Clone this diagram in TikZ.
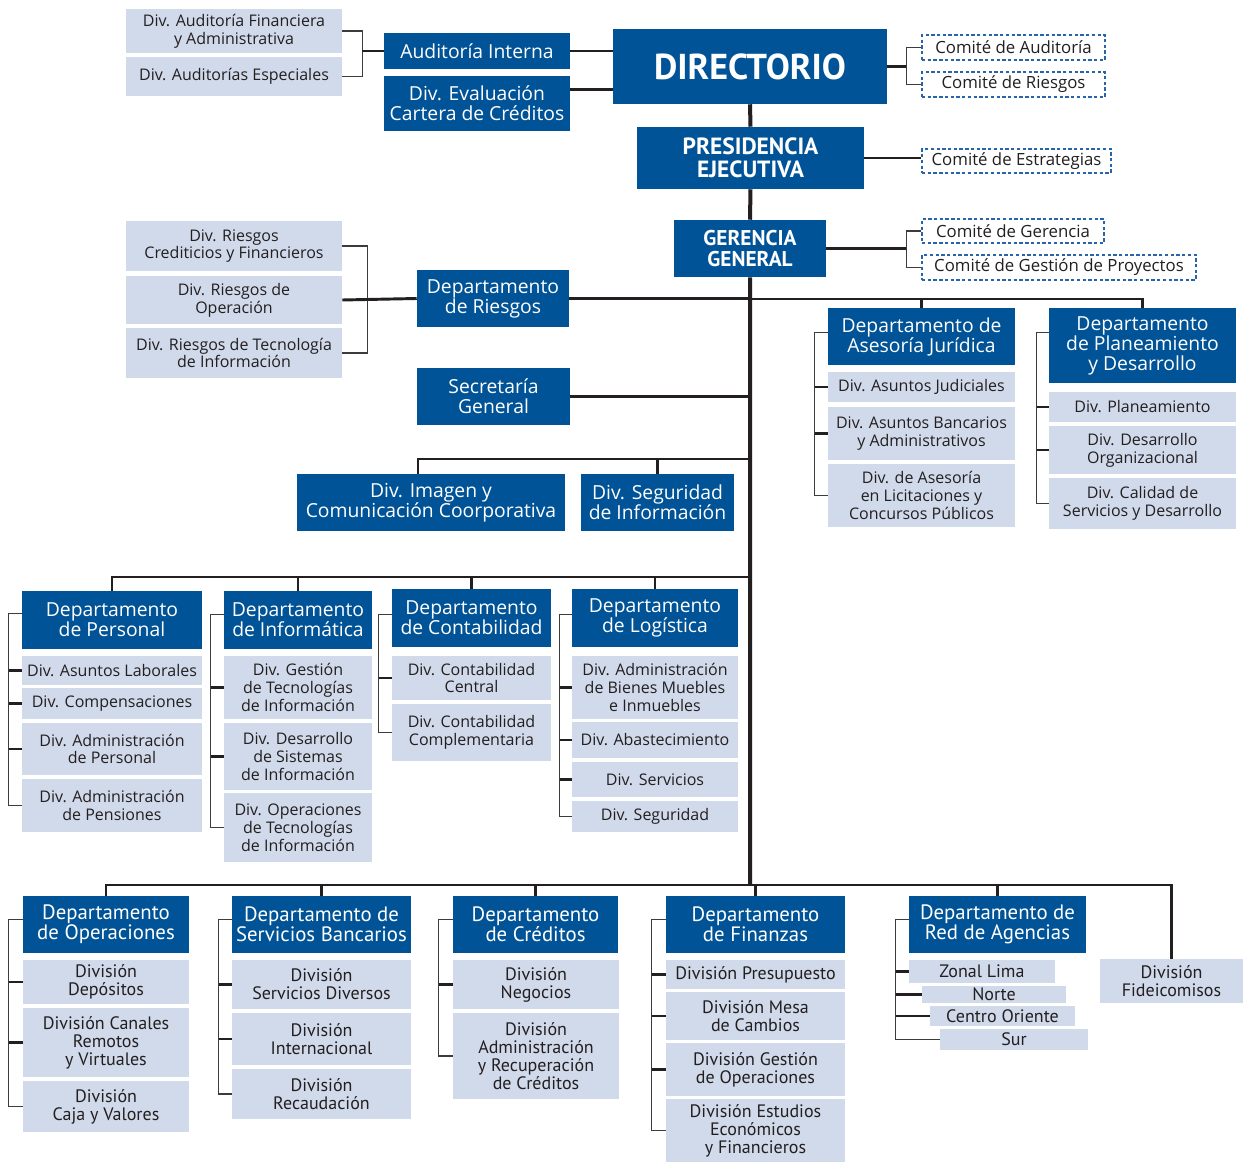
\documentclass[tikz,border=0pt]{standalone}
\usepackage{fontspec}
\setmainfont{Open Sans}
\newfontfamily\ptsans{PT Sans}
\usetikzlibrary{calc}
\definecolor{dkblue}{RGB}{0,83,150}
\definecolor{ltblue}{RGB}{209,218,234}
\definecolor{dashblue}{RGB}{40,100,170}
\definecolor{txt}{RGB}{35,31,32}
\definecolor{lncol}{RGB}{35,31,32}
\definecolor{brcol}{RGB}{60,60,60}
\newcommand\hdf{\fontsize{14.5}{15}\selectfont}
\newcommand\ltf{\fontsize{12}{13.3}\selectfont}
\newcommand\cmf{\fontsize{12.6}{13.3}\selectfont}
\newcommand\bhdf{\ptsans\fontsize{15.6}{15}\selectfont}
\newcommand\bltf{\ptsans\fontsize{13.5}{13.5}\selectfont}
\newcommand\obox[7]{\node[#6, minimum width={(#4-#2)*0.75pt}, minimum height={(#5-#3)*0.75pt}] (#1) at ({(#2+#4)/2},{(#3+#5)/2}) {#7};}
\tikzset{
 dk/.style={fill=dkblue, text=white, inner sep=0pt, align=center, font=\hdf},
 lt/.style={fill=ltblue, text=txt, inner sep=0pt, align=center, font=\ltf},
 comite/.style={draw=dashblue, dash pattern=on 2.5pt off 1.8pt, line width=0.8pt, text=txt, inner sep=0pt, align=center, font=\cmf},
 bdk/.style={dk, font=\bhdf},
 blt/.style={lt, font=\bltf},
 ttl/.style={dk, font=\ptsans\bfseries\fontsize{#1}{#1}\selectfont},
 trunk/.style={line width=3pt, draw=lncol},
 hl/.style={line width=2.2pt, draw=lncol},
 dr/.style={line width=1.6pt, draw=lncol},
 br/.style={line width=1pt, draw=brcol},
 tk/.style={line width=1.8pt, draw=lncol}
}
\begin{document}
\begin{tikzpicture}[x=0.75pt,y=-0.75pt]
\useasboundingbox (0,0) rectangle (1243,1162);
\fill[white] (0,0) rectangle (1243,1162);
% ---- top
\obox{A1}{126}{9}{342}{53}{lt}{Div. Auditoría Financiera\\y Administrativa}
\obox{A2}{126}{57}{342}{96}{lt}{Div. Auditorías Especiales}
\obox{AI}{384}{33}{570}{69}{dk}{Auditoría Interna}
\obox{EV}{384}{76}{570}{131}{dk}{Div. Evaluación\\Cartera de Créditos}
\obox{DIR}{613}{29}{887}{104}{ttl=27}{DIRECTORIO}
\obox{CA}{922}{35}{1105}{60}{comite}{Comité de Auditoría}
\obox{CR}{922}{72}{1105}{97}{comite}{Comité de Riesgos}
\obox{PE}{637}{127}{864}{189}{ttl=17.6}{PRESIDENCIA\\EJECUTIVA}
\obox{CE}{922}{149}{1111}{173}{comite}{Comité de Estrategias}
\obox{GG}{674}{220}{826}{277}{ttl=16}{GERENCIA\\GENERAL}
\obox{CG}{922}{219}{1104}{243}{comite}{Comité de Gerencia}
\obox{CP}{922}{255}{1196}{280}{comite}{Comité de Gestión de Proyectos}
% ---- riesgos
\obox{R1}{126}{221}{342}{271}{lt}{Div. Riesgos\\Crediticios y Financieros}
\obox{R2}{126}{276}{342}{324}{lt}{Div. Riesgos de\\Operación}
\obox{R3}{126}{328}{342}{378}{lt}{Div. Riesgos de Tecnología\\de Información}
\obox{DR}{417}{270}{569}{327}{dk}{Departamento\\de Riesgos}
\obox{SG}{417}{368}{570}{425}{dk}{Secretaría\\General}
\obox{IM}{297}{474}{565}{531}{dk}{Div. Imagen y\\Comunicación Coorporativa}
\obox{SI}{581}{474}{734}{531}{dk}{Div. Seguridad\\de Información}
% ---- asesoria / planeamiento
\obox{AJ}{828}{308}{1015}{365}{dk}{Departamento de\\Asesoría Jurídica}
\obox{J1}{828}{372}{1015}{402}{lt}{Div. Asuntos Judiciales}
\obox{J2}{828}{407}{1015}{460}{lt}{Div. Asuntos Bancarios\\y Administrativos}
\obox{J3}{828}{464}{1015}{527}{lt}{Div. de Asesoría\\en Licitaciones y\\Concursos Públicos}
\obox{PD}{1049}{308}{1236}{383}{dk}{Departamento\\de Planeamiento\\y Desarrollo}
\obox{P1}{1049}{392}{1236}{422}{lt}{Div. Planeamiento}
\obox{P2}{1049}{426}{1236}{474}{lt}{Div. Desarrollo\\Organizacional}
\obox{P3}{1049}{478}{1236}{529}{lt}{Div. Calidad de\\Servicios y Desarrollo}
% ---- row 2
\obox{DP}{22}{591}{202}{649}{dk}{Departamento\\de Personal}
\obox{dp1}{22}{656}{202}{685}{lt}{Div. Asuntos Laborales}
\obox{dp2}{22}{688}{202}{719}{lt}{Div. Compensaciones}
\obox{dp3}{22}{723}{202}{775}{lt}{Div. Administración\\de Personal}
\obox{dp4}{22}{779}{202}{832}{lt}{Div. Administración\\de Pensiones}
\obox{DI}{224}{591}{372}{649}{dk}{Departamento\\de Informática}
\obox{di1}{224}{656}{372}{719}{lt}{Div. Gestión\\de Tecnologías\\de Información}
\obox{di2}{224}{723}{372}{790}{lt}{Div. Desarrollo\\de Sistemas\\de Información}
\obox{di3}{224}{793}{372}{862}{lt}{Div. Operaciones\\de Tecnologías\\de Información}
\obox{DC}{392}{589}{551}{647}{dk}{Departamento\\de Contabilidad}
\obox{dc1}{392}{656}{551}{700}{lt}{Div. Contabilidad\\Central}
\obox{dc2}{392}{704}{551}{761}{lt}{Div. Contabilidad\\Complementaria}
\obox{DL}{572}{589}{738}{647}{dk}{Departamento\\de Logística}
\obox{dl1}{572}{656}{738}{719}{lt}{Div. Administración\\de Bienes Muebles\\e Inmuebles}
\obox{dl2}{572}{722}{738}{758}{lt}{Div. Abastecimiento}
\obox{dl3}{572}{762}{738}{797}{lt}{Div. Servicios}
\obox{dl4}{572}{801}{738}{832}{lt}{Div. Seguridad}
% ---- row 3
\obox{DO}{23}{896}{189}{953}{bdk}{Departamento\\de Operaciones}
\obox{do1}{23}{960}{189}{1004}{blt}{División\\Depósitos}
\obox{do2}{23}{1008}{189}{1077}{blt}{División Canales\\Remotos\\y Virtuales}
\obox{do3}{23}{1081}{189}{1132}{blt}{División\\Caja y Valores}
\obox{DS}{232}{896}{411}{953}{bdk}{Departamento de\\Servicios Bancarios}
\obox{ds1}{232}{960}{411}{1009}{blt}{División\\Servicios Diversos}
\obox{ds2}{232}{1013}{411}{1065}{blt}{División\\Internacional}
\obox{ds3}{232}{1069}{411}{1119}{blt}{División\\Recaudación}
\obox{DCr}{453}{896}{618}{953}{bdk}{Departamento\\de Créditos}
\obox{dcr1}{453}{960}{619}{1009}{blt}{División\\Negocios}
\obox{dcr2}{453}{1013}{619}{1099}{blt}{División\\Administración\\y Recuperación\\de Créditos}
\obox{DF}{666}{896}{845}{953}{bdk}{Departamento\\de Finanzas}
\obox{df1}{666}{960}{845}{989}{blt}{División Presupuesto}
\obox{df2}{666}{992}{845}{1040}{blt}{División Mesa\\de Cambios}
\obox{df3}{666}{1043}{845}{1096}{blt}{División Gestión\\de Operaciones}
\obox{df4}{666}{1099}{845}{1162}{blt}{División Estudios\\Económicos\\y Financieros}
\obox{DRA}{909}{896}{1086}{953}{bdk}{Departamento de\\Red de Agencias}
\obox{ra1}{909}{960}{1055}{983}{blt}{Zonal Lima}
\obox{ra2}{922}{986}{1066}{1003}{blt}{Norte}
\obox{ra3}{930}{1006}{1075}{1026}{blt}{Centro Oriente}
\obox{ra4}{940}{1029}{1088}{1050}{blt}{Sur}
\obox{FI}{1100}{959}{1243}{1003}{blt}{División\\Fideicomisos}
% ---- coordinates on trunk
\coordinate (hr) at (750,299);
\coordinate (hs) at (750,459);
\coordinate (h2) at (750,577);
\coordinate (h3) at (750,885);
% ---- top connectors
\draw[br] (A1.east) -- ++(20,0) |- (A2.east);
\draw[hl] (AI.west) -- ++(-22,0);
\draw[hl] (AI.east) -- (AI.east -| DIR.west);
\draw[hl] ($(EV.north east)+(0,14)$) -- ($(EV.north east -| DIR.west)+(0,14)$);
\draw[hl] (DIR.east) -- ++(20,0);
\draw[br] (CA.west) -- ++(-15,0) |- (CR.west);
\draw[hl] (PE.east) -- (CE.west |- PE.east);
\draw[hl] (GG.east) -- ++(81,0);
\draw[br] (CG.west) -- ++(-15,0) |- (CP.west);
\draw[trunk] (DIR.south) -- (PE.north) (PE.south) -- (GG.north) (GG.south) -- (h3);
% ---- riesgos / secretaria
\draw[br] (R1.east) -- ++(25,0) |- (R3.east);
\draw[hl] (R2.east) -- (DR.west);
\draw[hl] (DR.east) -- (DR.east -| hr);
\draw[hl] (hr) -| (PD.north);
\draw[dr] (AJ.north) -- (AJ.north |- hr);
\draw[hl] (SG.east) -- (SG.east -| hs);
\draw[dr] (hs) -| ($(IM.north west)+(121,0)$);
\draw[dr] (SI.north) -- (SI.north |- hs);
% ---- asesoria / planeamiento brackets
\draw[br] ($(AJ.north west)+(0,25)$) -- ++(-13,0) coordinate (AJb) |- (J3.west);
\foreach \c in {J1,J2} \draw[tk] (\c.west) -- (\c.west -| AJb);
\draw[br] ($(PD.north west)+(0,25)$) -- ++(-12,0) coordinate (PDb) |- (P3.west);
\foreach \c in {P1,P2} \draw[tk] (\c.west) -- (\c.west -| PDb);
% ---- row 2
\draw[hl] (h2) -| (DP.north);
\foreach \c in {DI,DC,DL} \draw[dr] (\c.north) -- (\c.north |- h2);
\draw[br] ($(DP.north west)+(0,23)$) -- ++(-13,0) coordinate (DPb) |- (dp4.west);
\foreach \c in {dp1,dp2,dp3} \draw[tk] (\c.west) -- (\c.west -| DPb);
\draw[br] ($(DI.north west)+(0,24)$) -- ++(-13,0) coordinate (DIb) |- (di3.west);
\foreach \c in {di1,di2} \draw[tk] (\c.west) -- (\c.west -| DIb);
\draw[br] ($(DC.north west)+(0,26)$) -- ++(-13,0) coordinate (DCb) |- (dc2.west);
\draw[tk] (dc1.west) -- (dc1.west -| DCb);
\draw[br] ($(DL.north west)+(0,26)$) -- ++(-12,0) coordinate (DLb) |- (dl4.west);
\foreach \c in {dl1,dl2,dl3} \draw[tk] (\c.west) -- (\c.west -| DLb);
% ---- row 3
\draw[hl] (DO.north) |- (FI.north |- h3) -- (FI.north);
\foreach \c in {DS,DCr,DF,DRA} \draw[dr] (\c.north) -- (\c.north |- h3);
\draw[br] ($(DO.north west)+(0,24)$) -- ++(-14,0) coordinate (DOb) |- (do3.west);
\foreach \c in {do1,do2} \draw[tk] (\c.west) -- (\c.west -| DOb);
\draw[br] ($(DS.north west)+(0,24)$) -- ++(-13,0) coordinate (DSb) |- (ds3.west);
\foreach \c in {ds1,ds2} \draw[tk] (\c.west) -- (\c.west -| DSb);
\draw[br] ($(DCr.north west)+(0,24)$) -- ++(-14,0) coordinate (DCrb) |- (dcr2.west);
\draw[tk] (dcr1.west) -- (dcr1.west -| DCrb);
\draw[br] ($(DF.north west)+(0,24)$) -- ++(-14,0) coordinate (DFb) |- (df4.west);
\foreach \c in {df1,df2,df3} \draw[tk] (\c.west) -- (\c.west -| DFb);
\draw[br] ($(DRA.north west)+(0,24)$) -- ++(-13,0) coordinate (DRAb) |- (ra4.west);
\foreach \c in {ra1,ra2,ra3} \draw[tk] (\c.west) -- (\c.west -| DRAb);
\end{tikzpicture}
\end{document}
